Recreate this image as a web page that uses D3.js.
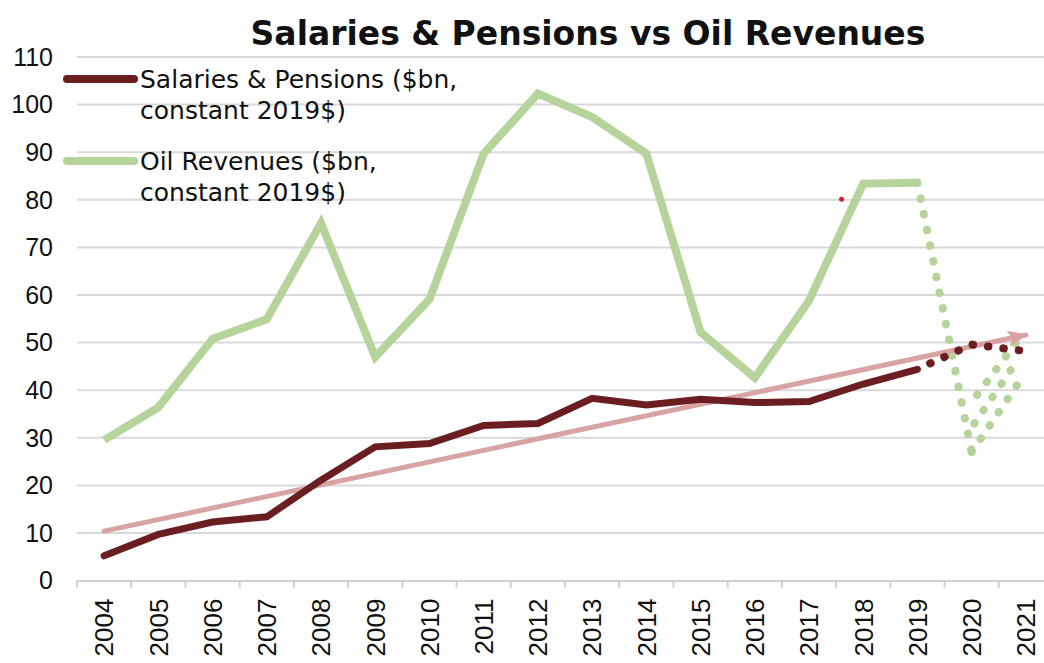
<!DOCTYPE html>
<html>
<head>
<meta charset="utf-8">
<script src="https://cdn.jsdelivr.net/npm/d3@7"></script>
<style>
  body { margin: 0; background: #fff; }
  svg { display: block; }
</style>
</head>
<body>
<div id="chart"></div>
<script>
// chart values
var years = ["2004", "2005", "2006", "2007", "2008", "2009", "2010", "2011", "2012",
             "2013", "2014", "2015", "2016", "2017", "2018", "2019", "2020", "2021"];
var salaries = [5.2, 9.7, 12.3, 13.4, 21.1, 28.1, 28.8, 32.6, 33.0,
                38.3, 36.9, 38.1, 37.4, 37.6, 41.3, 44.4];
var oilRevenues = [29.5, 36.4, 50.8, 54.9, 75.1, 47.0, 59.1, 89.7, 102.3,
                   97.4, 89.7, 52.2, 42.6, 58.8, 83.4, 83.6];
// projected (dotted) parts: [year, value]
var salariesProjection = [[2019, 44.4], [2020, 49.6], [2021, 48.2]];
var oilProjection = [[2019, 83.6], [2020, 27.0]];
var oilRecovery = [
  [[2020.0, 27.0], [2020.85, 41.3]],
  [[2020.05, 33.0], [2020.85, 46.4]],
  [[2020.1, 39.0], [2020.95, 52.0]]
];
var trend = [[2004, 10.4], [2021, 51.6]];
var strayPoint = [[2017.6, 80.1]];
var yTicks = [0, 10, 20, 30, 40, 50, 60, 70, 80, 90, 100, 110];
var legendItems = [
  {lines: ["Salaries & Pensions ($bn,", "constant 2019$)"], color: "#6b1e22"},
  {lines: ["Oil Revenues ($bn,", "constant 2019$)"], color: "#b6d39c"}
];

var W = 1044, H = 663;
var margin = {top: 57, left: 77, bottom: 82};
var plotRight = 1053;

var svg = d3.select("#chart").append("svg")
    .attr("width", W)
    .attr("height", H);

var x = d3.scaleBand()
    .domain(years)
    .range([margin.left, plotRight])
    .padding(0);
var bw = x.bandwidth();
// numeric year -> same centre positions as the band scale
var xc = d3.scaleLinear()
    .domain([2004, 2021])
    .range([x("2004") + bw / 2, x("2021") + bw / 2]);
var y = d3.scaleLinear()
    .domain([0, 110])
    .range([H - margin.bottom - 0.4, margin.top]);

// gridlines
svg.append("g")
    .selectAll("line")
    .data(yTicks.filter(function(d) { return d > 0; }))
    .enter().append("line")
    .attr("x1", margin.left)
    .attr("x2", plotRight)
    .attr("y1", function(d) { return y(d); })
    .attr("y2", function(d) { return y(d); })
    .attr("stroke", "#d9d9d9")
    .attr("stroke-width", 2);

// y axis labels
svg.append("g")
    .selectAll("text")
    .data(yTicks)
    .enter().append("text")
    .attr("x", 53)
    .attr("y", function(d) { return y(d); })
    .attr("dy", "0.35em")
    .attr("text-anchor", "end")
    .style("font-family", "'Liberation Sans', Arial, sans-serif")
    .style("font-size", "25px")
    .attr("fill", "#111")
    .text(function(d) { return d; });

// x axis
var xAxis = svg.append("g")
    .attr("transform", "translate(0," + y(0) + ")")
    .call(d3.axisBottom(x).tickSize(0).tickPadding(0));
xAxis.select(".domain").attr("stroke", "#d0d0d0").attr("stroke-width", 2);
xAxis.selectAll(".tick text")
    .attr("transform", "rotate(-90)")
    .attr("x", -18)
    .attr("y", 0)
    .attr("dy", "0.36em")
    .style("text-anchor", "end")
    .style("font-family", "'Liberation Sans', Arial, sans-serif")
    .style("font-size", "26px")
    .attr("fill", "#111");
// tick marks at band boundaries
svg.append("g")
    .selectAll("line")
    .data(years)
    .enter().append("line")
    .attr("x1", function(d) { return x(d); })
    .attr("x2", function(d) { return x(d); })
    .attr("y1", y(0))
    .attr("y2", y(0) + 7)
    .attr("stroke", "#d0d0d0")
    .attr("stroke-width", 2);

var line = d3.line()
    .x(function(d) { return xc(d[0]); })
    .y(function(d) { return y(d[1]); });

// oil revenues
svg.append("path")
    .datum(oilRevenues.map(function(v, i) { return [+years[i], v]; }))
    .attr("d", line)
    .attr("fill", "none")
    .attr("stroke", "#b6d39c")
    .attr("stroke-width", 8)
    .attr("stroke-linejoin", "miter");

svg.append("path")
    .datum(oilProjection)
    .attr("d", line)
    .attr("fill", "none")
    .attr("stroke", "#b6d39c")
    .attr("stroke-width", 8)
    .attr("stroke-linecap", "round")
    .attr("stroke-dasharray", "0.5 15.5");

svg.append("g")
    .selectAll("path")
    .data(oilRecovery)
    .enter().append("path")
    .attr("d", line)
    .attr("fill", "none")
    .attr("stroke", "#b6d39c")
    .attr("stroke-width", 8)
    .attr("stroke-linecap", "round")
    .attr("stroke-dasharray", "0.5 15.5");

// trend arrow
svg.append("defs").append("marker")
    .attr("id", "arrow")
    .attr("markerUnits", "userSpaceOnUse")
    .attr("viewBox", "0 0 20 16")
    .attr("refX", 18)
    .attr("refY", 8)
    .attr("markerWidth", 20)
    .attr("markerHeight", 16)
    .attr("orient", "auto")
    .append("path")
    .attr("d", "M0,0 L20,8 L0,16 L4,8 Z")
    .attr("fill", "#d8a3a3");

svg.append("path")
    .datum(trend)
    .attr("d", line)
    .attr("fill", "none")
    .attr("stroke", "#d8a3a3")
    .attr("stroke-width", 5)
    .attr("stroke-linecap", "round")
    .attr("marker-end", "url(#arrow)");

// salaries & pensions
svg.append("path")
    .datum(salaries.map(function(v, i) { return [+years[i], v]; }))
    .attr("d", line)
    .attr("fill", "none")
    .attr("stroke", "#6b1e22")
    .attr("stroke-width", 7)
    .attr("stroke-linecap", "round");

svg.append("path")
    .datum(salariesProjection)
    .attr("d", line)
    .attr("fill", "none")
    .attr("stroke", "#6b1e22")
    .attr("stroke-width", 8)
    .attr("stroke-linecap", "round")
    .attr("stroke-dasharray", "0.5 15")
    .attr("stroke-dashoffset", -14);

// small red dot
svg.selectAll(".stray")
    .data(strayPoint)
    .enter().append("circle")
    .attr("class", "stray")
    .attr("cx", function(d) { return xc(d[0]); })
    .attr("cy", function(d) { return y(d[1]); })
    .attr("r", 2.5)
    .attr("fill", "#d0202a");

// legend
var legend = svg.append("g")
    .selectAll("g")
    .data(legendItems)
    .enter().append("g")
    .attr("transform", function(d, i) { return "translate(0," + (i * 82) + ")"; });
legend.append("line")
    .attr("x1", 67).attr("x2", 134)
    .attr("y1", 79).attr("y2", 79)
    .attr("stroke", function(d) { return d.color; })
    .attr("stroke-width", 8)
    .attr("stroke-linecap", "round");
legend.each(function(d) {
  var g = d3.select(this);
  d.lines.forEach(function(t, j) {
    g.append("text")
      .attr("x", 140)
      .attr("y", 88 + j * 31)
      .style("font-family", "'DejaVu Sans', Verdana, sans-serif")
      .style("font-size", "25px")
      .attr("fill", "#111")
      .text(t);
  });
});

// title
svg.append("text")
    .attr("x", 588)
    .attr("y", 45)
    .attr("text-anchor", "middle")
    .style("font-family", "'DejaVu Sans', Verdana, sans-serif")
    .style("font-weight", "bold")
    .style("font-size", "33px")
    .attr("fill", "#111")
    .text("Salaries & Pensions vs Oil Revenues");
</script>
</body>
</html>
